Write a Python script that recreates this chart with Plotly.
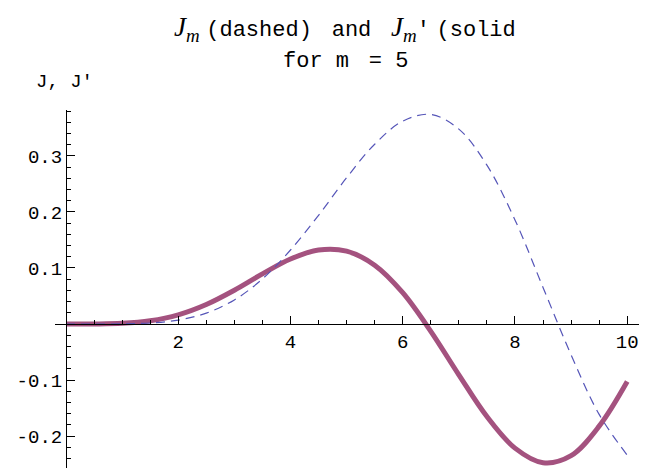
import plotly.graph_objects as go

# values (m = 5)
z = [0, 0.5, 1, 1.5, 2, 2.5, 3, 3.5, 4, 4.5, 5, 5.5, 6, 6.5, 7, 7.5, 8, 8.5, 9, 9.5, 10]
j_m = [0, 0.00001, 0.00025, 0.0018, 0.0070, 0.0195, 0.0430, 0.0804, 0.1321, 0.1940,
       0.2611, 0.3209, 0.3621, 0.3741, 0.3479, 0.2835, 0.1858, 0.0653, -0.0550, -0.1613, -0.2341]
dj_m = [0, 0.00008, 0.0012, 0.0058, 0.0164, 0.0348, 0.0603, 0.0895, 0.1160, 0.1322,
        0.1301, 0.1050, 0.0559, -0.0130, -0.0907, -0.1652, -0.2215, -0.2475, -0.2349, -0.1823, -0.1026]

x_ticks = [2, 4, 6, 8, 10]
y_ticks = [-0.2, -0.1, 0.1, 0.2, 0.3]
y_labels = ["-0.2", "-0.1", "0.1", "0.2", "0.3"]

x_range = [-0.196, 10.21]
y_range = [-0.257, 0.382]

mono = "Liberation Mono, Courier New, monospace"
serif = "Liberation Serif, Times New Roman, serif"

# page has an 8px body margin, so the figure is drawn 8px smaller
W, H = 662, 460
L, T, R = 47, 102, 31
pw, ph = W - L - R, H - T

fig = go.Figure()

fig.add_trace(
    go.Scatter(
        x=z,
        y=dj_m,
        mode="lines",
        line=dict(color="#A4527F", width=5, shape="spline"),
        name="J'"
    )
)

fig.add_trace(
    go.Scatter(
        x=z,
        y=j_m,
        mode="lines",
        line=dict(color="#5555B8", width=1.2, dash="9px,6px", shape="spline"),
        name="J"
    )
)

jm = "<span style='font-family:%s;font-size:27px'><i>J<sub>m</sub></i></span>" % serif
half = "<span style='font-size:11px'> </span>"

fig.update_layout(
    width=W,
    height=H,
    margin=dict(l=L, r=R, t=T, b=0),
    plot_bgcolor="white",
    paper_bgcolor="white",
    showlegend=False,
    xaxis=dict(
        range=x_range,
        anchor="free",
        position=(0 - y_range[0]) / (y_range[1] - y_range[0]),
        showgrid=False,
        zeroline=False,
        showline=True,
        linecolor="black",
        linewidth=1,
        tickvals=x_ticks,
        ticks="inside",
        ticklen=8,
        tickcolor="black",
        tickfont=dict(family=mono, size=19, color="black"),
        minor=dict(dtick=0.5, tick0=0, ticks="inside", ticklen=4, tickcolor="black", showgrid=False),
        automargin=False,
    ),
    yaxis=dict(
        range=y_range,
        anchor="free",
        position=(0 - x_range[0]) / (x_range[1] - x_range[0]),
        showgrid=False,
        zeroline=False,
        showline=True,
        linecolor="black",
        linewidth=1,
        tickvals=y_ticks,
        ticktext=y_labels,
        ticks="inside",
        ticklen=8,
        tickcolor="black",
        tickfont=dict(family=mono, size=19, color="black"),
        minor=dict(dtick=0.02, tick0=0, ticks="inside", ticklen=4, tickcolor="black", showgrid=False),
        automargin=False,
    ),
)

title_x = (337 - L) / pw
fig.add_annotation(
    text=jm + half + "(dashed)" + half + " and " + half + jm + "'" + half + "(solid",
    xref="paper", yref="paper",
    x=title_x, y=1 + (T - 21) / ph, xanchor="center", yanchor="middle", showarrow=False,
    font=dict(family=mono, size=22, color="black")
)
fig.add_annotation(
    text="for m" + half + " = 5", xref="paper", yref="paper",
    x=title_x, y=1 + (T - 54) / ph, xanchor="center", yanchor="middle", showarrow=False,
    font=dict(family=mono, size=22, color="black")
)
fig.add_annotation(
    text="J, J'", xref="paper", yref="paper", x=(26 - L) / pw, y=1 + (T - 74) / ph,
    xanchor="left", yanchor="middle", showarrow=False,
    font=dict(family=mono, size=19, color="black")
)
fig.add_annotation(
    text="z", xref="paper", yref="y", x=(654 - L) / pw, y=0,
    xanchor="left", yanchor="middle", showarrow=False,
    font=dict(family=mono, size=19, color="black")
)

fig.write_html("out.html")
